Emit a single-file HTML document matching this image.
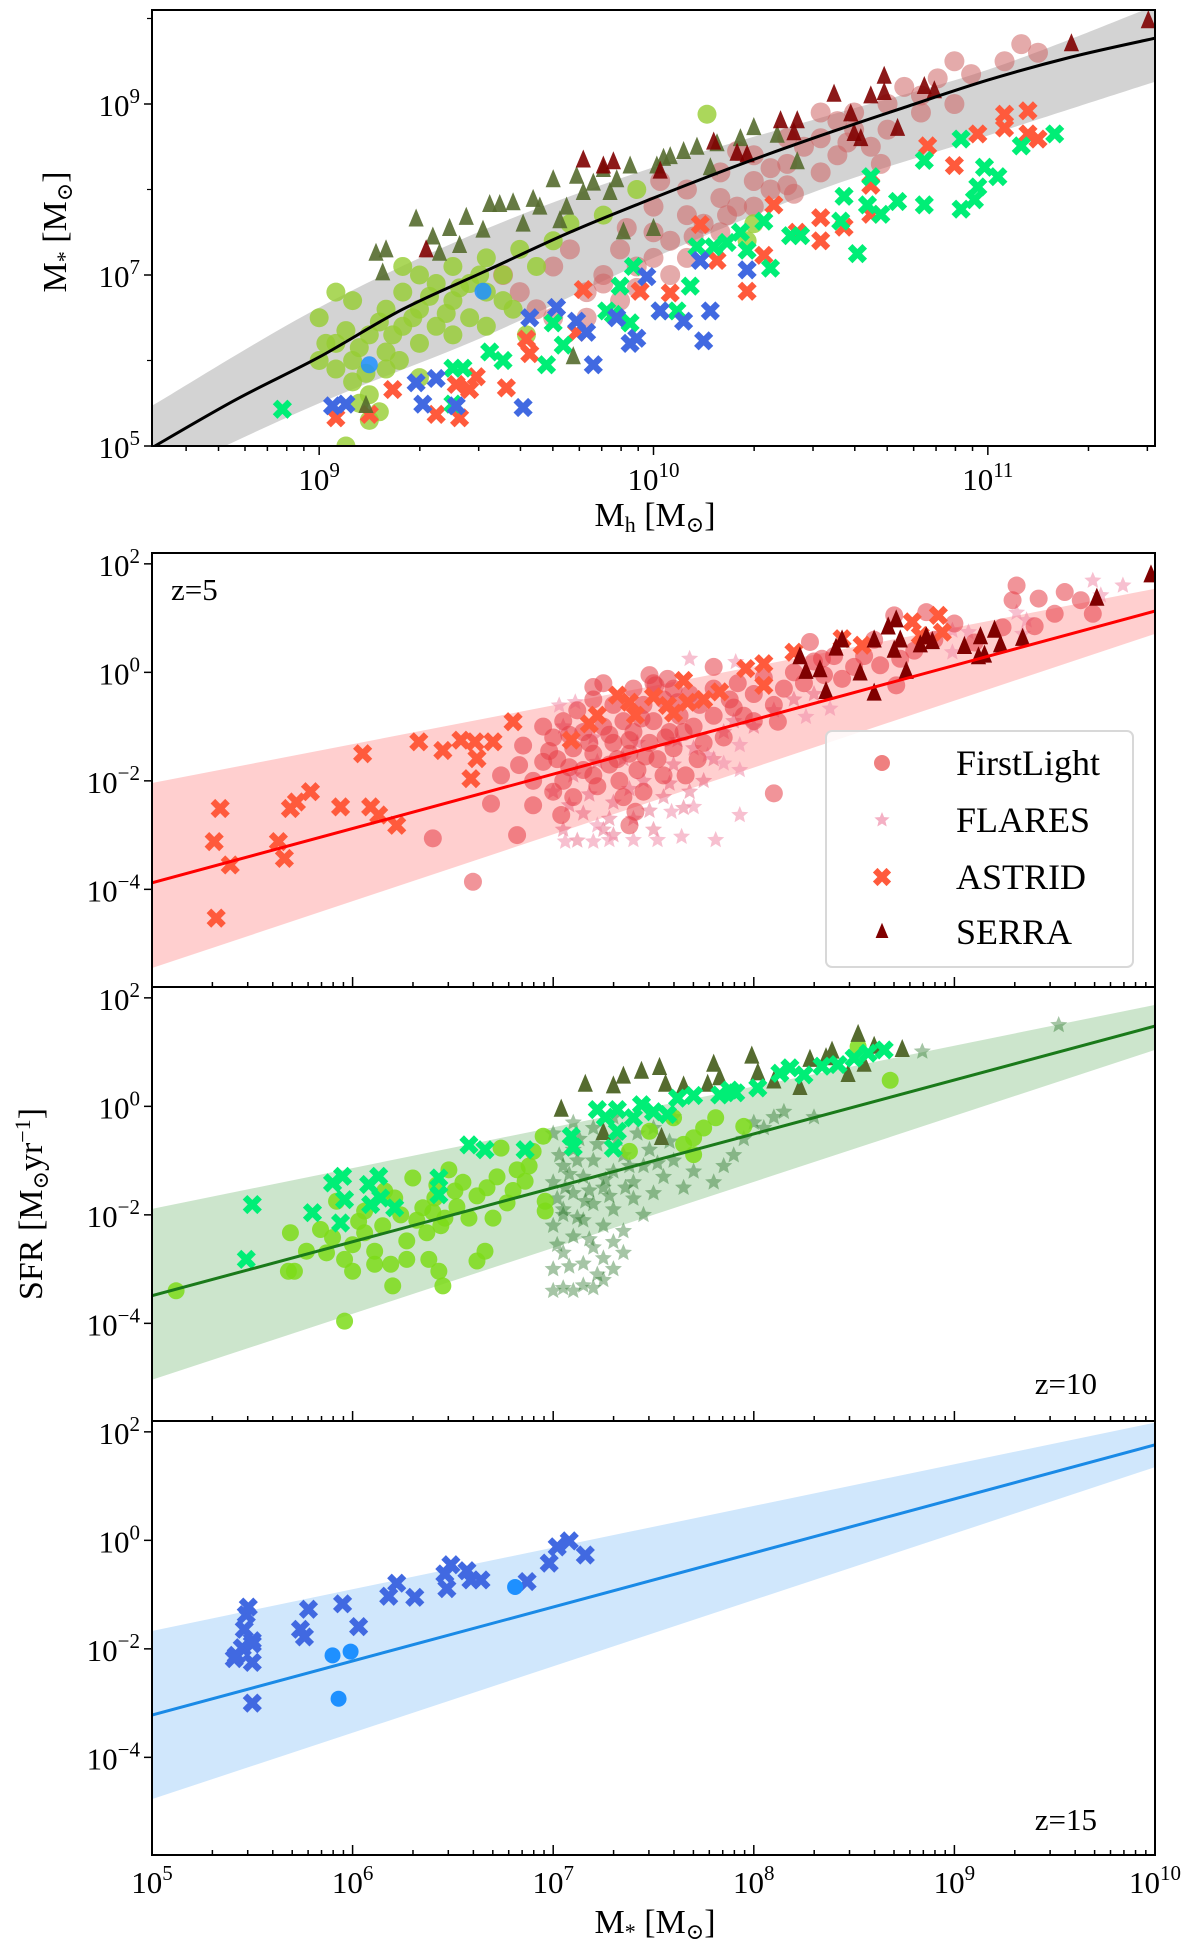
<!DOCTYPE html>
<html><head><meta charset="utf-8"><style>
html,body{margin:0;padding:0;background:#fff;}
svg{display:block;font-family:"Liberation Serif","DejaVu Serif",serif;}
</style></head><body>
<svg id="fig" width="1200" height="1958" viewBox="0 0 1200 1958" xmlns="http://www.w3.org/2000/svg">
<defs>
<clipPath id="clipTop"><rect x="152" y="10" width="1003" height="436"/></clipPath>
<clipPath id="clipP1"><rect x="152" y="553" width="1003" height="434"/></clipPath>
<clipPath id="clipP2"><rect x="152" y="987" width="1003" height="434"/></clipPath>
<clipPath id="clipP3"><rect x="152" y="1421" width="1003" height="434"/></clipPath>
</defs>
<g id="root"></g>
</svg>
<script>
// ---------- TOP PANEL DATA (log Mh, log M*) ----------
const smhdGrid = [8.5,8.75,9,9.25,9.5,9.75,10,10.25,10.5,10.75,11,11.25,11.5];
const smhdCurve = [4.98,5.54,6.04,6.6,7.05,7.5,7.9,8.28,8.63,8.96,9.28,9.55,9.77];
const bandGrid = [8.5,9,9.5,10,10.5,11,11.5];
const bandUpper = [5.47,6.62,7.54,8.26,8.84,9.4,10.15];
const bandLower = [4.6,5.5,6.29,7.2,8.0,8.63,9.26];
const topRoseCircles = [[9.85,7.0],[9.9,7.3],[9.95,7.1],[10.0,7.5],[10.0,7.8],[10.05,7.4],[10.1,7.7],[10.1,8.0],[10.15,7.6],[10.2,7.9],[10.2,8.2],[10.25,7.8],[10.3,8.1],[10.3,8.4],[10.35,8.0],[10.4,8.3],[10.45,8.5],[10.5,8.2],[10.5,8.6],[10.55,8.4],[10.6,8.7],[10.6,8.9],[10.65,8.5],[10.7,9.0],[10.7,8.7],[10.75,9.2],[10.8,8.9],[10.8,9.1],[10.85,9.3],[10.9,9.0],[10.9,9.5],[10.95,9.35],[11.05,9.5],[11.1,9.7],[11.15,9.6],[10.0,7.2],[9.7,7.1],[9.75,7.3],[9.6,6.8],[9.65,6.6],[9.8,6.5],[9.9,6.7],[10.1,7.2],[10.2,7.5],[10.3,7.8],[10.4,8.6],[10.5,8.9],[10.55,8.8],[9.55,7.0],[9.7,6.5],[9.85,6.9],[9.95,6.85],[10.05,7.0],[10.12,7.45],[10.22,7.7],[10.35,8.25],[10.42,7.95],[10.58,8.55],[10.68,8.3],[9.92,7.55],[10.02,8.1],[10.25,8.45],[10.4,8.05],[9.8,6.8]];
const topLimeCircles = [[9.0,6.5],[9.05,6.2],[9.05,5.9],[9.1,6.0],[9.1,6.7],[9.1,5.75],[9.15,6.3],[9.15,5.6],[9.2,6.1],[9.2,6.6],[9.2,5.9],[9.25,6.4],[9.25,6.8],[9.3,6.2],[9.3,6.6],[9.35,6.9],[9.35,6.4],[9.4,6.7],[9.4,7.1],[9.45,6.5],[9.45,6.9],[9.5,7.2],[9.5,6.8],[9.55,7.0],[9.55,6.7],[9.6,7.3],[9.65,7.1],[9.7,7.4],[9.75,7.6],[9.3,7.0],[9.25,7.1],[9.05,6.8],[9.0,6.0],[9.4,6.3],[9.5,6.4],[9.15,5.3],[9.08,5.0],[9.12,5.5],[9.18,5.4],[9.58,6.6],[9.3,5.8],[9.95,8.0],[9.85,7.7],[10.28,7.4],[10.3,7.6],[10.16,8.88],[9.62,6.3],[9.12,6.15],[9.22,6.3],[9.28,6.5],[9.38,6.55],[9.42,6.85],[9.18,6.45],[9.08,6.35],[9.33,6.75],[9.48,7.0],[9.02,6.2],[9.14,5.85],[9.24,6.0]];
const topBlueCircles = [[9.49,6.81],[9.15,5.95]];
const topDarkGreenTri = [[9.17,7.25],[9.2,7.29],[9.19,7.02],[9.29,7.65],[9.34,7.44],[9.39,7.54],[9.44,7.67],[9.36,7.25],[9.42,7.34],[9.49,7.52],[9.51,7.82],[9.54,7.82],[9.58,7.84],[9.61,7.59],[9.64,7.88],[9.66,7.79],[9.7,8.11],[9.72,7.63],[9.74,7.79],[9.77,8.15],[9.79,7.96],[9.82,8.07],[9.85,8.23],[9.87,7.96],[9.89,8.11],[9.91,7.5],[9.93,8.27],[10.0,7.54],[10.01,8.27],[10.03,8.36],[10.05,8.38],[10.09,8.44],[10.13,8.49],[10.17,8.25],[10.19,8.53],[10.26,8.59],[10.3,8.72],[10.37,8.63],[10.43,8.32],[9.14,5.47],[9.76,6.04]];
const topDarkRedTri = [[9.79,8.34],[9.88,8.32],[9.85,8.27],[10.02,8.21],[9.32,7.29],[10.18,8.55],[10.25,8.42],[10.28,8.4],[10.38,8.8],[10.43,8.8],[10.42,8.66],[10.54,9.11],[10.59,8.88],[10.6,8.65],[10.62,8.59],[10.65,9.09],[10.69,9.32],[10.69,9.13],[10.73,8.71],[10.81,9.2],[10.84,9.15],[11.25,9.7],[11.48,9.97]];
const topGreenX = [[8.89,5.43],[9.4,5.91],[9.43,5.91],[9.51,6.1],[9.55,6.0],[9.68,5.95],[9.7,6.44],[9.73,6.18],[9.86,6.58],[9.88,6.54],[9.93,6.44],[9.9,6.87],[9.94,7.1],[10.02,6.58],[10.07,6.58],[10.11,6.87],[10.13,7.33],[10.18,7.33],[10.22,7.38],[10.26,7.5],[10.28,7.29],[10.35,7.08],[10.33,7.63],[10.41,7.46],[10.44,7.46],[10.56,7.63],[10.57,7.92],[10.61,7.25],[10.64,7.82],[10.65,8.15],[10.73,7.86],[10.81,7.82],[10.81,8.34],[10.92,8.59],[10.92,7.77],[10.96,7.88],[10.97,8.03],[10.99,8.26],[11.03,8.15],[11.1,8.51],[11.2,8.65],[9.4,5.49],[10.68,7.71]];
const topRedX = [[9.05,5.33],[9.15,5.37],[9.22,5.66],[9.35,5.37],[9.42,5.33],[9.41,5.72],[9.47,5.81],[9.45,5.66],[9.56,5.68],[9.62,6.25],[9.63,6.08],[9.77,6.33],[9.79,6.83],[9.96,6.81],[10.05,6.79],[10.14,7.59],[10.19,7.17],[10.28,6.81],[10.33,7.23],[10.36,7.82],[10.43,7.5],[10.5,7.67],[10.5,7.4],[10.57,7.56],[10.65,8.05],[10.65,7.71],[10.82,8.51],[10.9,8.28],[10.97,8.65],[11.05,8.88],[11.05,8.72],[11.12,8.92],[11.12,8.65],[11.15,8.59]];
const topBlueX = [[9.04,5.47],[9.08,5.49],[9.29,5.74],[9.31,5.49],[9.41,5.47],[9.61,5.45],[9.63,6.5],[9.71,6.62],[9.77,6.46],[9.8,6.33],[9.82,5.95],[9.89,6.5],[9.93,6.2],[9.95,6.26],[9.98,6.98],[10.02,6.58],[10.09,6.46],[10.14,7.17],[10.15,6.23],[10.17,6.58],[10.28,7.06],[9.35,5.79]];

// ---------- z=5 DATA (log M*, log SFR) ----------
const z5Fit = [-3.88,1.13];
const z5Upper = [-2.04,1.54];
const z5Lower = [-5.45,0.71];
const z5Astrid = [[5.34,-2.51],[5.31,-3.12],[5.39,-3.55],[5.32,-4.53],[5.63,-3.12],[5.66,-3.43],[5.69,-2.51],[5.72,-2.39],[5.79,-2.2],[5.94,-2.48],[6.09,-2.48],[6.13,-2.63],[6.22,-2.82],[6.05,-1.5],[6.33,-1.28],[6.45,-1.44],[6.54,-1.25],[6.61,-1.28],[6.62,-1.59],[6.59,-1.96],[6.7,-1.28],[6.8,-0.91],[7.09,-1.25],[7.22,-0.79],[7.32,-0.42],[7.41,-0.79],[7.57,-0.61],[7.65,-0.15],[7.67,-0.55],[7.83,-0.36],[7.96,0.07],[8.05,0.16],[8.2,0.37],[8.44,0.62],[8.54,0.5],[8.79,0.93],[8.92,1.05],[8.94,0.74],[8.83,0.68],[8.05,-0.24],[7.18,-0.95],[7.38,-0.55],[7.5,-0.45],[7.6,-0.75],[7.75,-0.5]];
const z5FirstLight = [[6.4,-3.06],[6.6,-3.86],[6.82,-3.0],[6.69,-2.42],[6.9,-2.45],[6.74,-1.9],[6.83,-1.71],[6.95,-1.65],[8.1,-2.23],[9.31,1.6],[9.29,1.33],[9.42,1.36],[9.55,1.48],[9.63,1.33],[9.69,1.08],[9.5,1.08],[8.86,1.11],[8.7,1.05],[9.24,0.83],[8.73,0.25],[8.63,0.13],[8.28,0.56],[8.34,0.25],[8.44,-0.12],[8.71,-0.24],[7.8,0.1],[7.57,-0.12],[7.51,-0.24],[7.2,-0.27],[8.12,-0.91],[7.41,-2.57],[7.38,-2.82],[7.04,-2.63],[7.0,-1.2],[7.02,-1.6],[7.05,-2.0],[7.05,-0.9],[7.1,-1.4],[7.1,-2.3],[7.12,-0.7],[7.15,-1.1],[7.15,-1.8],[7.2,-0.5],[7.2,-1.5],[7.22,-2.1],[7.25,-1.0],[7.28,-1.7],[7.3,-0.6],[7.3,-1.3],[7.33,-2.0],[7.35,-0.9],[7.38,-1.5],[7.4,-0.3],[7.4,-1.1],[7.42,-1.8],[7.45,-0.6],[7.48,-1.3],[7.5,-0.2],[7.5,-0.9],[7.52,-1.6],[7.55,-0.5],[7.58,-1.1],[7.6,-0.3],[7.6,-1.4],[7.63,-0.8],[7.66,-1.9],[7.68,-0.4],[7.7,-1.0],[7.73,-0.6],[7.75,-1.3],[7.8,-0.3],[7.8,-0.8],[7.85,-1.2],[7.88,-0.5],[7.92,-0.2],[7.95,-0.8],[8.0,-0.4],[8.05,-0.1],[8.1,-0.6],[8.15,-0.3],[8.2,0.0],[8.3,0.2],[8.4,0.3],[8.5,0.1],[8.6,0.6],[8.8,0.4],[9.0,0.9],[7.25,-0.2],[7.35,-2.3],[7.45,-2.2],[6.95,-1.0],[7.55,-1.9],[7.48,-0.05],[6.98,-1.45],[7.08,-1.15],[7.18,-1.3],[7.28,-1.15],[7.38,-1.25],[7.46,-1.55],[7.56,-1.2],[7.65,-1.1],[7.72,-1.6],[7.08,-1.75],[7.2,-1.9],[7.32,-1.6],[7.44,-0.85],[7.62,-0.55],[7.9,-0.65],[8.0,-0.9],[8.25,-0.2],[8.35,-0.05],[8.55,0.3],[8.9,0.6],[9.1,0.55],[9.4,0.85],[6.85,-1.35],[6.9,-2.0],[7.0,-2.2]];
const z5Flares = [[7.06,-3.12],[7.2,-3.12],[7.28,-3.09],[7.4,-3.09],[7.52,-3.09],[7.64,-3.03],[7.81,-3.09],[7.59,-2.57],[7.7,-2.48],[7.93,-2.63],[7.22,-2.82],[7.93,-1.8],[7.85,-1.68],[7.77,-1.53],[7.93,-1.34],[7.68,0.25],[7.91,0.19],[8.26,-0.82],[8.38,-0.67],[8.99,0.77],[9.07,0.74],[8.99,0.37],[9.36,0.96],[9.31,1.1],[9.69,1.69],[9.84,1.6],[9.73,1.42],[9.34,0.71],[7.03,-0.61],[7.11,-0.55]];
const z5FlaresDense = [[7.05,-1.0],[7.1,-1.9],[7.15,-2.6],[7.2,-1.2],[7.25,-2.9],[7.3,-2.4],[7.35,-1.6],[7.4,-2.7],[7.45,-2.0],[7.5,-2.9],[7.55,-2.3],[7.6,-1.7],[7.65,-2.5],[7.7,-1.4],[7.75,-2.0],[7.8,-1.6],[7.85,-1.1],[7.9,-0.9],[8.0,-1.0],[8.1,-0.7],[8.2,-0.5],[8.3,-0.4],[7.0,-2.2],[7.05,-2.9],[7.12,-3.1],[7.3,-3.0],[7.08,-2.45],[7.18,-2.25],[7.28,-2.7],[7.38,-2.15],[7.48,-2.55],[7.58,-2.05],[7.68,-2.2],[7.22,-1.65],[7.42,-1.3],[7.62,-1.25]];
const z5Serra = [[8.23,0.28],[8.26,0.01],[8.33,0.04],[8.36,-0.36],[8.41,0.44],[8.44,0.59],[8.53,-0.02],[8.6,0.59],[8.6,-0.39],[8.67,0.83],[8.71,0.96],[8.7,0.4],[8.73,0.59],[8.76,0.01],[8.83,0.5],[8.86,0.65],[8.89,0.56],[9.05,0.47],[9.13,0.65],[9.12,0.28],[9.15,0.31],[9.2,0.77],[9.23,0.5],[9.34,0.62],[9.71,1.36],[9.98,1.79]];

// ---------- z=10 DATA ----------
const z10Fit = [-3.49,1.48];
const z10Upper = [-1.89,1.87];
const z10Lower = [-5.04,1.04];
const z10FirstLight = [[5.12,-3.4],[5.96,-3.96],[5.68,-3.04],[5.71,-3.04],[5.69,-2.33],[5.77,-2.67],[5.84,-2.27],[5.87,-2.7],[5.9,-2.42],[5.92,-1.75],[5.96,-2.82],[6.0,-3.04],[6.0,-2.55],[6.03,-2.12],[6.06,-2.33],[6.11,-2.67],[6.11,-2.91],[6.19,-2.91],[6.2,-3.31],[6.27,-2.82],[6.27,-2.48],[6.3,-1.32],[6.35,-1.87],[6.37,-2.33],[6.38,-2.82],[6.43,-3.04],[6.45,-3.31],[6.41,-1.69],[6.46,-2.06],[6.48,-1.17],[6.51,-1.56],[6.58,-2.06],[6.62,-2.85],[6.66,-2.67],[6.67,-1.5],[6.7,-2.06],[6.74,-0.77],[6.77,-1.78],[6.82,-1.17],[6.86,-1.38],[6.9,-0.83],[6.95,-0.55],[6.96,-1.93],[6.96,-1.75],[6.16,-1.56],[6.21,-1.69],[6.06,-1.93],[8.68,0.48],[8.52,1.1],[7.95,-0.37],[7.81,-0.21],[7.7,-0.89],[7.7,-0.58],[7.48,-0.46],[7.38,-0.83],[7.6,-0.21],[6.4,-1.95],[6.44,-2.2],[6.52,-1.85],[6.55,-1.4],[6.62,-1.65],[6.72,-1.3],[6.8,-1.55],[6.88,-1.1],[6.32,-2.1],[6.24,-2.0],[6.15,-2.2],[6.42,-1.45],[7.65,-0.7],[7.75,-0.4]];
const z10Astrid = [[5.5,-1.81],[5.47,-2.82],[5.8,-1.96],[5.9,-1.41],[5.95,-1.29],[5.96,-1.72],[5.94,-2.15],[6.08,-1.44],[6.13,-1.29],[6.09,-1.81],[6.14,-1.69],[6.21,-1.87],[6.43,-1.32],[6.43,-1.63],[6.58,-0.71],[6.66,-0.8],[6.86,-0.8],[7.09,-0.55],[7.22,-0.06],[7.32,-0.06],[7.3,-0.77],[7.32,-0.46],[7.44,0.03],[7.4,-0.21],[7.62,0.15],[7.83,0.21],[7.91,0.25],[8.02,0.34],[8.13,0.61],[8.18,0.71],[8.25,0.58],[8.34,0.74],[8.42,0.77],[8.5,0.89],[8.57,0.98],[8.65,1.04],[7.57,-0.15],[7.1,-0.75],[7.26,-0.2],[7.5,-0.1],[7.7,0.2],[7.88,0.3]];
const z10Serra = [[7.04,-0.06],[7.16,0.4],[7.3,0.37],[7.35,0.55],[7.44,0.64],[7.53,0.71],[7.56,0.4],[7.65,0.37],[7.77,0.4],[7.8,0.77],[7.83,0.52],[7.99,0.92],[8.02,0.61],[8.1,0.46],[8.23,0.34],[8.28,0.86],[8.36,0.89],[8.39,1.01],[8.47,0.58],[8.52,1.32],[8.55,0.77],[8.6,1.1],[8.74,1.04],[7.54,-0.58],[7.25,-0.49]];
const z10Flares = [[7.0,-3.4],[7.05,-3.35],[7.1,-3.4],[7.15,-3.3],[7.2,-3.35],[7.25,-3.2],[7.0,-3.0],[7.05,-2.7],[7.1,-2.4],[7.15,-2.9],[7.2,-2.6],[7.25,-2.8],[7.3,-2.5],[7.3,-3.0],[7.35,-2.7],[7.0,-2.2],[7.05,-1.9],[7.1,-1.6],[7.15,-2.1],[7.2,-1.8],[7.25,-2.2],[7.3,-1.9],[7.35,-2.3],[7.4,-1.7],[7.0,-1.4],[7.05,-1.1],[7.1,-0.8],[7.15,-1.3],[7.2,-1.0],[7.25,-1.5],[7.3,-1.2],[7.35,-0.9],[7.4,-1.4],[7.45,-1.1],[7.5,-1.6],[7.55,-1.3],[7.6,-1.0],[7.65,-1.5],[7.7,-1.2],[7.8,-1.4],[7.85,-1.1],[7.9,-0.9],[8.05,-0.4],[8.1,-0.2],[8.15,-0.1],[7.0,-0.5],[7.1,-0.3],[7.2,-0.4],[7.3,-0.2],[7.5,-0.4],[7.6,-0.2],[7.45,-2.0],[7.05,-2.0],[8.3,-0.2],[9.52,1.5],[8.84,1.01],[7.02,-1.7],[7.08,-1.25],[7.12,-2.05],[7.18,-1.55],[7.22,-0.7],[7.28,-1.65],[7.02,-2.55],[7.08,-2.95],[7.12,-1.0],[7.18,-2.45],[7.22,-3.1],[7.32,-0.6],[7.38,-1.1],[7.42,-0.5],[7.48,-0.8],[7.52,-1.05],[7.58,-0.65],[7.03,-0.9],[7.13,-0.6],[7.06,-1.5],[7.16,-1.75],[7.26,-1.35],[7.36,-1.5],[7.95,-0.6],[8.0,-0.3]];

// ---------- z=15 DATA ----------
const z15Fit = [-3.22,1.76];
const z15Upper = [-1.67,2.17];
const z15Lower = [-4.77,1.35];
const z15Astrid = [[5.42,-2.12],[5.41,-2.18],[5.45,-1.98],[5.46,-1.64],[5.47,-1.37],[5.48,-1.23],[5.5,-1.91],[5.5,-2.25],[5.5,-1.85],[5.5,-3.0],[5.74,-1.64],[5.76,-1.78],[5.78,-1.27],[5.95,-1.17],[6.03,-1.59],[6.18,-1.03],[6.22,-0.79],[6.31,-1.05],[6.46,-0.62],[6.47,-0.89],[6.49,-0.45],[6.57,-0.56],[6.59,-0.73],[6.64,-0.73],[6.87,-0.76],[6.98,-0.42],[7.02,-0.12],[7.08,-0.01],[7.16,-0.27]];
const z15FirstLight = [[5.9,-2.12],[5.99,-2.05],[5.93,-2.92],[6.81,-0.86]];

const xTickLabelsTop = ["9","10","11"];
const xTickLabelsBottom = ["5","6","7","8","9","10"];
const yTickLabelsTop = ["5","7","9"];
const yTickLabelsBottom = ["2","0","\u22122","\u22124"];

const NS = "http://www.w3.org/2000/svg";
const root = document.getElementById('root');
function el(tag, attrs, parent){
  const e = document.createElementNS(NS, tag);
  for (const k in attrs) e.setAttribute(k, attrs[k]);
  (parent||root).appendChild(e);
  return e;
}
const X0 = 152, X1 = 1155;
const topY0 = 10, topY1 = 446;
function txTop(v){ return X0 + (v - 8.5) / 3 * (X1 - X0); }
function tyTop(v){ return topY1 - (v - 5) * 85.5; }
function txB(v){ return X0 + (v - 5) / 5 * (X1 - X0); }
const panelTops = [553, 987, 1421];
function tyB(p, v){ return panelTops[p] + 434 - (v + 5.8) * 54.25; }

function marker(g, type, x, y, color, size){
  let m;
  if (type === 'circle') {
    m = el('circle', {cx:x, cy:y, r:size||8, fill:color}, g);
  } else if (type === 'x') {
    const s = (size||5);
    m = el('path', {d:`M${x-s} ${y-s}L${x+s} ${y+s}M${x-s} ${y+s}L${x+s} ${y-s}`, stroke:color, 'stroke-width':6.5, 'stroke-linecap':'square', fill:'none'}, g);
  } else if (type === 'tri') {
    const s = size||8;
    m = el('polygon', {points:`${x},${y-s*1.15} ${x+s*0.8},${y+s*0.75} ${x-s*0.8},${y+s*0.75}`, fill:color}, g);
  } else if (type === 'star') {
    const R = size||8, r = R*0.45; let pts = [];
    for (let i=0;i<10;i++){ const a = -Math.PI/2 + i*Math.PI/5; const rr = i%2?r:R; pts.push((x+rr*Math.cos(a)).toFixed(1)+','+(y+rr*Math.sin(a)).toFixed(1)); }
    m = el('polygon', {points:pts.join(' '), fill:color}, g);
  }
  return m;
}
function sup(parent, x, y, base, exp, anchor, size){
  const t = el('text', {x:x, y:y, 'font-size':size||31, 'text-anchor':anchor||'middle', fill:'#000'}, parent);
  const a = document.createElementNS(NS,'tspan'); a.textContent = base; t.appendChild(a);
  const b = document.createElementNS(NS,'tspan'); b.setAttribute('dy','-13'); b.setAttribute('font-size', Math.round((size||31)*0.68)); b.textContent = exp; t.appendChild(b);
  return t;
}
function smoothPath(pts){
  let d = `M${pts[0][0]},${pts[0][1]}`;
  for (let i=0;i<pts.length-1;i++){
    const p0 = pts[Math.max(0,i-1)], p1 = pts[i], p2 = pts[i+1], p3 = pts[Math.min(pts.length-1,i+2)];
    const c1 = [p1[0]+(p2[0]-p0[0])/6, p1[1]+(p2[1]-p0[1])/6];
    const c2 = [p2[0]-(p3[0]-p1[0])/6, p2[1]-(p3[1]-p1[1])/6];
    d += `C${c1[0].toFixed(1)},${c1[1].toFixed(1)} ${c2[0].toFixed(1)},${c2[1].toFixed(1)} ${p2[0].toFixed(1)},${p2[1].toFixed(1)}`;
  }
  return d;
}

// ================= TOP PANEL =================
const gTop = el('g', {});


const gTopPlot = el('g', {'clip-path':'url(#clipTop)'}, gTop);
const upPts = bandGrid.map((v,i)=>[txTop(v), tyTop(bandUpper[i])]);
const loPts = bandGrid.map((v,i)=>[txTop(v), tyTop(bandLower[i])]).reverse();
const band = el('path', {d: smoothPath(upPts) + smoothPath(loPts).replace('M','L') + 'Z', fill:'#d3d3d3'}, gTopPlot);


function drawSet(g, arr, type, color, size, tx, ty, name){
  const gg = el('g', {}, g);
  
  
  arr.forEach(p => marker(gg, type, tx(p[0]), ty(p[1]), color, size));
}
drawSet(gTopPlot, topRoseCircles, 'circle', 'rgba(205,100,100,0.55)', 10, txTop, tyTop, 'firstlight-z5-points');
drawSet(gTopPlot, topLimeCircles, 'circle', 'rgba(150,205,50,0.8)', 9.5, txTop, tyTop, 'firstlight-z10-points');
drawSet(gTopPlot, topBlueCircles, 'circle', 'rgba(30,144,255,0.85)', 8.5, txTop, tyTop, 'firstlight-z15-points');
drawSet(gTopPlot, topRedX, 'x', '#ff5a3c', 5, txTop, tyTop, 'astrid-z5-points');
drawSet(gTopPlot, topGreenX, 'x', '#00ee76', 5, txTop, tyTop, 'astrid-z10-points');
drawSet(gTopPlot, topBlueX, 'x', '#4169e1', 5, txTop, tyTop, 'astrid-z15-points');
drawSet(gTopPlot, topDarkGreenTri, 'tri', 'rgba(85,107,47,0.9)', 9.5, txTop, tyTop, 'serra-z10-points');
drawSet(gTopPlot, topDarkRedTri, 'tri', 'rgba(128,0,0,0.9)', 9.5, txTop, tyTop, 'serra-z5-points');
const curve = el('path', {d: smoothPath(smhdGrid.map((v,i)=>[txTop(v), tyTop(smhdCurve[i])])), fill:'none', stroke:'#000', 'stroke-width':3}, gTopPlot);


el('rect', {x:X0, y:topY0, width:X1-X0, height:topY1-topY0, fill:'none', stroke:'#000', 'stroke-width':2}, gTop);
for (let d=8; d<=11; d++){
  for (let k=1;k<=9;k++){
    const v = d + Math.log10(k);
    if (v < 8.5 || v > 11.5) continue;
    const x = txTop(v);
    el('line', {x1:x, y1:topY1, x2:x, y2:topY1+(k===1?9:5), stroke:'#000', 'stroke-width':1.5}, gTop);
  }
}
xTickLabelsTop.forEach((lab,i)=>{ const t = sup(gTop, txTop(9+i), 490, '10', lab, 'middle', 31);
    });
yTickLabelsTop.forEach((lab,i)=>{ const y = tyTop(5+2*i);
  el('line', {x1:X0-8, y1:y, x2:X0, y2:y, stroke:'#000', 'stroke-width':1.5}, gTop);
  const t = sup(gTop, 140, y+12, '10', lab, 'end', 31);
    });
for (let v=5; v<=10; v++){ if (v%2===0){ const y=tyTop(v); el('line',{x1:X0-5,y1:y,x2:X0,y2:y,stroke:'#000','stroke-width':1.2},gTop);} }
const xtTop = el('text', {x:655, y:526, 'font-size':34, 'text-anchor':'middle'}, gTop);
xtTop.innerHTML = 'M<tspan font-size="22" dy="6">h</tspan><tspan dy="-6"> [M</tspan><tspan font-size="22" dy="6">⊙</tspan><tspan dy="-6">]</tspan>';


const ytTop = el('text', {x:0, y:0, 'font-size':34, 'text-anchor':'middle', transform:'translate(66,232) rotate(-90)'}, gTop);
ytTop.innerHTML = 'M<tspan font-size="22" dy="6">*</tspan><tspan dy="-6"> [M</tspan><tspan font-size="22" dy="6">⊙</tspan><tspan dy="-6">]</tspan>';



// ================= SFR PANELS =================
const fits = [[z5Fit,z5Upper,z5Lower,'#ff0000','rgba(255,160,160,0.5)'],[z10Fit,z10Upper,z10Lower,'#1a7a1a','rgba(110,180,110,0.35)'],[z15Fit,z15Upper,z15Lower,'#1a8ae6','rgba(120,185,245,0.35)']];
const panelNames = ['sfr-panel-z5','sfr-panel-z10','sfr-panel-z15'];
for (let p=0;p<3;p++){
  const g = el('g', {});
  
  
  const gp = el('g', {'clip-path':`url(#clipP${p+1})`}, g);
  const [fit, up, lo, lc, bc] = fits[p];
  const ty = v => tyB(p, v);
  const bnd = el('polygon', {points:`${txB(5)},${ty(up[0])} ${txB(10)},${ty(up[1])} ${txB(10)},${ty(lo[1])} ${txB(5)},${ty(lo[0])}`, fill:bc}, gp);
  
  
  if (p===0){
    drawSet(gp, z5FlaresDense, 'star', 'rgba(220,40,80,0.35)', 9, txB, ty, 'flares-dense-points');
    drawSet(gp, z5Flares, 'star', 'rgba(240,140,170,0.55)', 9, txB, ty, 'flares-points');
    drawSet(gp, z5FirstLight, 'circle', 'rgba(230,60,70,0.55)', 9, txB, ty, 'firstlight-points');
    drawSet(gp, z5Astrid, 'x', '#ff5a3c', 5, txB, ty, 'astrid-points');
    drawSet(gp, z5Serra, 'tri', '#800000', 9.5, txB, ty, 'serra-points');
  } else if (p===1){
    drawSet(gp, z10Flares, 'star', 'rgba(30,110,30,0.4)', 9, txB, ty, 'flares-points');
    drawSet(gp, z10FirstLight, 'circle', 'rgba(125,220,25,0.85)', 8.5, txB, ty, 'firstlight-points');
    drawSet(gp, z10Serra, 'tri', '#556b2f', 9.5, txB, ty, 'serra-points');
    drawSet(gp, z10Astrid, 'x', '#00ee76', 5, txB, ty, 'astrid-points');
  } else {
    drawSet(gp, z15Astrid, 'x', '#4169e1', 5, txB, ty, 'astrid-points');
    drawSet(gp, z15FirstLight, 'circle', '#1e90ff', 8, txB, ty, 'firstlight-points');
  }
  const ln = el('line', {x1:txB(5), y1:ty(fit[0]), x2:txB(10), y2:ty(fit[1]), stroke:lc, 'stroke-width':3}, gp);
  
  
  el('rect', {x:X0, y:panelTops[p], width:X1-X0, height:434, fill:'none', stroke:'#000', 'stroke-width':2}, g);
  const yb = panelTops[p]+434;
  for (let d=5; d<=10; d++){
    for (let k=1;k<=9;k++){
      const v = d + Math.log10(k);
      if (v > 10) continue;
      const x = txB(v);
      el('line', {x1:x, y1:yb, x2:x, y2:yb-(k===1?10:5), stroke:'#000', 'stroke-width':1.5}, g);
    }
  }
  yTickLabelsBottom.forEach((lab,i)=>{ const y = ty(2-2*i);
    el('line', {x1:X0-8, y1:y, x2:X0, y2:y, stroke:'#000', 'stroke-width':1.5}, g);
    const t = sup(g, 140, y+12, '10', lab, 'end', 31);
      });
}
[['z=5',171,600,'start'],['z=10',1097,1394,'end'],['z=15',1097,1830,'end']].forEach(a=>{
  const t = el('text', {x:a[1], y:a[2], 'font-size':31, 'text-anchor':a[3]});
  t.textContent = a[0];
  
  
});
xTickLabelsBottom.forEach((lab,i)=>{ const t = sup(root, txB(5+i), 1893, '10', lab, 'middle', 31);
    });
const xtB = el('text', {x:655, y:1933, 'font-size':34, 'text-anchor':'middle'});
xtB.innerHTML = 'M<tspan font-size="22" dy="6">*</tspan><tspan dy="-6"> [M</tspan><tspan font-size="22" dy="6">⊙</tspan><tspan dy="-6">]</tspan>';


const ytB = el('text', {x:0, y:0, 'font-size':34, 'text-anchor':'middle', transform:'translate(42,1204) rotate(-90)'});
ytB.innerHTML = 'SFR [M<tspan font-size="22" dy="6">⊙</tspan><tspan dy="-6">yr</tspan><tspan font-size="22" dy="-12">−1</tspan><tspan dy="12">]</tspan>';



const lg = el('g', {});


el('rect', {x:826, y:731, width:307, height:236, rx:6, fill:'rgba(255,255,255,0.85)', stroke:'#d8d8d8', 'stroke-width':2}, lg);
const legItems = [['FirstLight','circle','#ef8080',763],['FLARES','star','#f4b0c4',820],['ASTRID','x','#ff5a3c',877],['SERRA','tri','#800000',932]];
legItems.forEach(it=>{
  const e = el('g', {}, lg);
  
  
  marker(e, it[1], 882, it[3], it[2], it[1]==='circle'?8:(it[1]==='x'?4.5:8));
  const t = el('text', {x:956, y:it[3]+12, 'font-size':36}, e);
  t.textContent = it[0];
});
</script>
</body></html>
